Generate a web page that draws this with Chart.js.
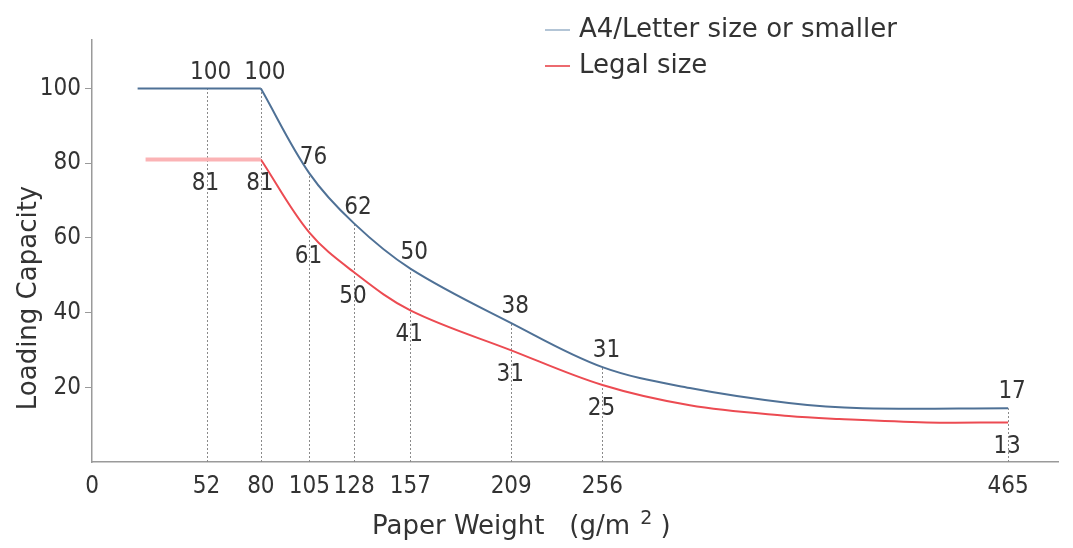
<!DOCTYPE html>
<html><head><meta charset="utf-8">
<script src="https://cdn.jsdelivr.net/npm/chart.js@4.4.1/dist/chart.umd.min.js"></script>
<style>html,body{margin:0;padding:0;background:#fff}#wrap{width:1073px;height:548px}</style>
</head><body><div id="wrap"><canvas id="c" width="1073" height="548"></canvas></div>
<script>
// ---- data ----
const seriesNames = ['A4/Letter size or smaller', 'Legal size'];
const weightTicks = [52, 80, 105, 128, 157, 209, 256, 465];
const a4Capacity = [100, 100, 76, 62, 50, 38, 31, 17];
const legalCapacity = [81, 81, 61, 50, 41, 31, 25, 13];
const a4TraceX = [16.5, 52, 80, 105, 128, 157, 209, 256, 301, 352, 390, 465];
const a4TraceY = [100, 100, 100, 77.3, 63.9, 51.8, 37.2, 25.4, 19.8, 15.8, 14.4, 14.4];
const legalTraceX = [20.6, 52, 80, 105, 128, 157, 209, 256, 301, 352, 378, 423, 465];
const legalTraceY = [81, 81, 81, 61.4, 50.8, 40.6, 29.9, 20.6, 15.2, 12.3, 11.5, 10.6, 10.6];
const yTicks = [20, 40, 60, 80, 100];
const kneeWeight = 80;
const xAxisTitleParts = ['Paper Weight   (g/m ', '2', ' )'];
const yAxisTitle = 'Loading Capacity';

// ---- helpers ----
const NUM_FAMILY = '"DejaVu Sans Condensed", "Liberation Sans Narrow", sans-serif';
const NUM_FONT = '24px ' + NUM_FAMILY;
const TXT_FONT = '26px "DejaVu Sans", sans-serif';
const TXT_COLOR = '#333';
function pts(xs, ys, keep) { return xs.map((x, i) => ({x, y: ys[i]})).filter(p => keep(p.x)); }
function valAt(xs, ys, w) { const i = xs.indexOf(w); return ys[i]; }

const A4_COLOR = '#4f7196', A4_LEG = '#b3c5d6';
const LG_COLOR = '#ec4b52', LG_FLAT = '#fbb3b5', LG_LEG = '#ec6a6f';

const datasets = [
  {label: seriesNames[0], legendColor: A4_LEG, data: pts(a4TraceX, a4TraceY, x => x <= kneeWeight),
   borderColor: A4_COLOR, borderWidth: 2, tension: 0},
  {label: '', data: pts(a4TraceX, a4TraceY, x => x >= kneeWeight),
   borderColor: A4_COLOR, borderWidth: 2, tension: 0.35},
  {label: seriesNames[1], legendColor: LG_LEG, data: pts(legalTraceX, legalTraceY, x => x <= kneeWeight),
   borderColor: LG_FLAT, borderWidth: 4, tension: 0},
  {label: '', data: pts(legalTraceX, legalTraceY, x => x >= kneeWeight),
   borderColor: LG_COLOR, borderWidth: 2, tension: 0.35}
];

const dropLines = {
  id: 'dropLines',
  beforeDatasetsDraw(chart) {
    const {ctx, scales: {x, y}} = chart;
    ctx.save();
    ctx.strokeStyle = '#8a8a8a'; ctx.lineWidth = 1; ctx.setLineDash([2, 2]);
    weightTicks.forEach(w => {
      const px = Math.round(x.getPixelForValue(w)) + 0.5;
      ctx.beginPath();
      ctx.moveTo(px, y.getPixelForValue(0));
      ctx.lineTo(px, y.getPixelForValue(valAt(a4TraceX, a4TraceY, w)));
      ctx.stroke();
    });
    ctx.restore();
  }
};

const valueLabels = {
  id: 'valueLabels',
  afterDatasetsDraw(chart) {
    const {ctx, scales: {x, y}} = chart;
    ctx.save();
    ctx.font = NUM_FONT; ctx.fillStyle = TXT_COLOR;
    ctx.textAlign = 'center'; ctx.textBaseline = 'middle';
    weightTicks.forEach((w, i) => {
      const px = x.getPixelForValue(w);
      const ya = y.getPixelForValue(valAt(a4TraceX, a4TraceY, w));
      const yl = y.getPixelForValue(valAt(legalTraceX, legalTraceY, w));
      ctx.fillText(String(a4Capacity[i]), px + 4, ya - 16);
      ctx.fillText(String(legalCapacity[i]), px - 1, yl + 24);
    });
    ctx.restore();
  }
};

const titlesAndLegend = {
  id: 'titlesAndLegend',
  afterDraw(chart) {
    const {ctx, chartArea: ca} = chart;
    ctx.save();
    ctx.font = TXT_FONT; ctx.fillStyle = TXT_COLOR;
    ctx.textBaseline = 'middle';
    // x title with superscript
    ctx.textAlign = 'left';
    let tx = ca.left + 280;
    const ty = ca.bottom + 65;
    ctx.fillText(xAxisTitleParts[0], tx, ty);
    tx += ctx.measureText(xAxisTitleParts[0]).width + 2;
    ctx.font = '19px "DejaVu Sans", sans-serif';
    ctx.fillText(xAxisTitleParts[1], tx, ty - 8);
    tx += ctx.measureText(xAxisTitleParts[1]).width;
    ctx.font = TXT_FONT;
    ctx.fillText(xAxisTitleParts[2], tx, ty);
    // y title
    ctx.textAlign = 'center';
    ctx.save();
    ctx.translate(ca.left - 63, ca.top + 258);
    ctx.rotate(-Math.PI / 2);
    ctx.fillText(yAxisTitle, 0, 0);
    ctx.restore();
    // legend
    ctx.textAlign = 'left';
    let row = 0;
    chart.data.datasets.forEach(ds => {
      if (!ds.label) return;
      const cy = 30 + row * 36;
      ctx.strokeStyle = ds.legendColor; ctx.lineWidth = 2;
      ctx.beginPath(); ctx.moveTo(545, cy); ctx.lineTo(570, cy); ctx.stroke();
      ctx.fillText(ds.label, 579, cy);
      row++;
    });
    ctx.restore();
  }
};

new Chart(document.getElementById('c'), {
  type: 'line',
  data: {datasets},
  options: {
    responsive: false, animation: false, devicePixelRatio: 1,
    layout: {padding: {top: 40, right: 15, left: 0, bottom: 0}},
    elements: {point: {radius: 0, hoverRadius: 0}},
    plugins: {legend: {display: false}, tooltip: {enabled: false}},
    scales: {
      x: {
        type: 'linear', min: -7, max: 490.7,
        afterBuildTicks: s => { s.ticks = [s.min, ...weightTicks].map(v => ({value: v})); },
        afterFit: s => { s.height = 86; },
        grid: {display: false, drawTicks: false},
        border: {color: '#9a9a9a', width: 1.5},
        ticks: {autoSkip: false, maxRotation: 0, padding: 10, color: TXT_COLOR,
          font: {family: NUM_FAMILY, size: 24},
          callback: function(v) { return v === this.min ? '0' : String(v); }}
      },
      y: {
        min: 0, max: 113,
        afterBuildTicks: s => { s.ticks = yTicks.map(v => ({value: v})); },
        afterFit: s => { s.width = 92; },
        grid: {drawOnChartArea: false, drawTicks: true, tickLength: 7, color: '#9a9a9a'},
        border: {color: '#9a9a9a', width: 1.5},
        ticks: {padding: 4, color: TXT_COLOR, font: {family: NUM_FAMILY, size: 24}}
      }
    }
  },
  plugins: [dropLines, valueLabels, titlesAndLegend]
});
</script></body></html>
